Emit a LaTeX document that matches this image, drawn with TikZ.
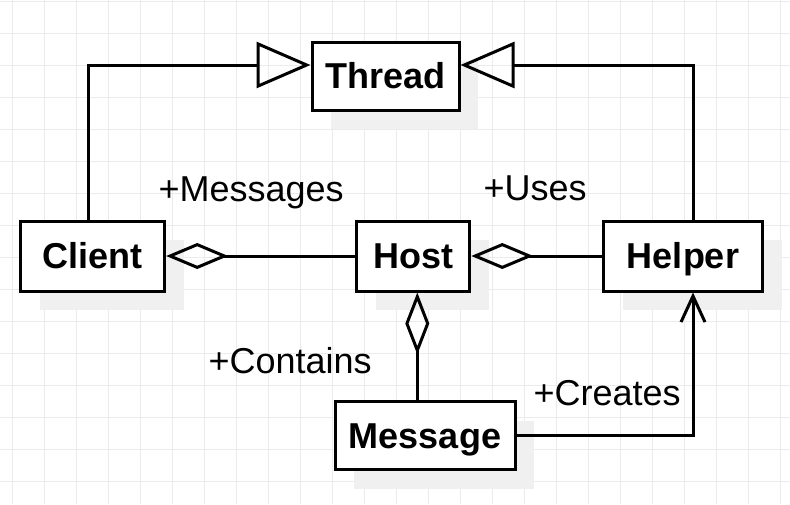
\documentclass[tikz,border=0pt]{standalone}
\usepackage{fontspec}
\setmainfont{Liberation Sans}
\usetikzlibrary{arrows.meta,shadows}

\begin{document}
\begin{tikzpicture}[x=1pt,y=-1pt,line width=3pt,
	cls/.style={draw,fill=white,inner sep=0pt,text height=25.8pt,text depth=0pt,
		font=\fontsize{36}{40}\selectfont\bfseries,
		drop shadow={shadow xshift=19pt,shadow yshift=-19pt,fill=black!6,opacity=1}},
	role/.style={anchor=base west,inner sep=0pt,font=\fontsize{36}{40}\selectfont},
	gridline/.style={draw=black!8,line width=1pt}]
	\useasboundingbox[fill=white] (0,0) rectangle (790,504);
	\foreach \k in {0,...,24} \draw[gridline] ({12.7+32*\k},0) -- ({12.7+32*\k},504);
	\foreach \k in {0,...,15} \draw[gridline] (0,{1.7+32*\k}) -- (790,{1.7+32*\k});

	\node[cls,minimum width=147pt,minimum height=68pt] (Thread) at (385.5,76) {Thread};
	\node[cls,minimum width=144pt,minimum height=70pt] (Client) at (92.7,256) {Client};
	\node[cls,minimum width=113pt,minimum height=70pt] (Host) at (413.3,256) {Host};
	\node[cls,minimum width=159pt,minimum height=70pt] (Helper) at (683,256) {Helper};
	\node[cls,minimum width=180pt,minimum height=68pt] (Message) at (425,435.5) {Message};

	\node[role] (msgLabel) at (157,201) {+Messages};
	\node[role] (usesLabel) at (482,200) {+Uses};
	\node[role] (containsLabel) at (207,373) {+Contains};
	\node[role] (createsLabel) at (532,405) {+Creates};

	\coordinate (hostfoot) at ([xshift=4pt]Host.south);
	\draw[-{Triangle[open,length=54pt,width=46pt]}] ([xshift=-4pt]Client.north) |- ([yshift=11pt]Thread.west);
	\draw[-{Triangle[open,length=54pt,width=46pt]}] ([xshift=10pt]Helper.north) |- ([yshift=11pt]Thread.east);
	\draw[{Diamond[open,length=62pt,width=26pt]}-] (Client.east) -- (Host.west);
	\draw[{Diamond[open,length=62pt,width=26pt]}-] (Host.east) -- (Helper.west);
	\draw[{Diamond[open,length=62pt,width=24pt]}-] (hostfoot) -- (hostfoot |- Message.north);
	\draw[-{Straight Barb[length=26pt,width=24pt]}] (Message.east) -| ([xshift=10pt]Helper.south);
\end{tikzpicture}
\end{document}
